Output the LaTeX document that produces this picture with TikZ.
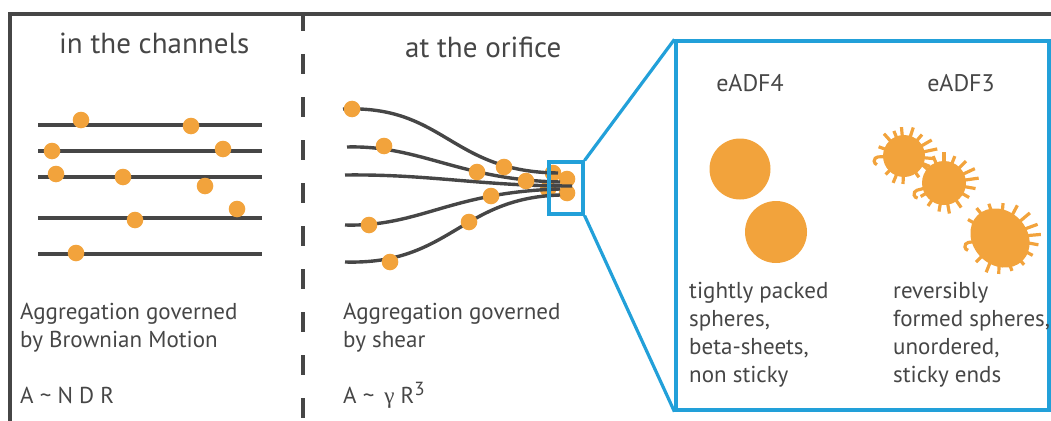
\documentclass[tikz,border=0pt]{standalone}
\usepackage{fontspec}
\setmainfont{PT Sans}
\newfontfamily\greekfont{Liberation Serif}
\definecolor{ink}{HTML}{464646}
\definecolor{bead}{HTML}{F2A33C}
\definecolor{zoomblue}{HTML}{22A0D9}

% a sphere with sticky ends: centre x, centre y, radius, rays (angle/length)
\newcommand\stickyball[4]{%
  \fill[bead] (#1,#2) circle[radius=#3];
  \foreach \a/\l in {#4}
    \draw[bead, line width=3.2pt, shift={(#1,#2)}] (\a:#3-3) -- (\a:#3+\l);
}
% a curled sticky end: centre x, centre y, radius, angle, length
\newcommand\stickyhook[5]{%
  \draw[bead, line width=3.2pt, shift={(#1,#2)}]
    (#4:#3-3) -- (#4:#3+#5) arc[start angle=#4+90, delta angle=-160, radius=4];
}

\begin{document}
\begin{tikzpicture}[x=1pt, y=-1pt,
  frame/.style={draw=ink, line width=3.6pt},
  channel/.style={draw=ink, line width=3.4pt},
  flow/.style={draw=ink, line width=3.4pt},
  particle/.style={fill=bead},
  zoomline/.style={draw=zoomblue, line width=3.2pt},
  title/.style={text=ink, font=\fontsize{29}{34}\selectfont, anchor=base west, inner sep=0},
  body/.style={text=ink, font=\fontsize{23}{28}\selectfont, anchor=base west, inner sep=0},
  tag/.style={text=ink, font=\fontsize{24}{28}\selectfont, anchor=base, inner sep=0}]

\useasboundingbox (0,0) rectangle (1051,420);
\clip (0,0) rectangle (1051,420);

% outer frame and divider
\draw[frame] (10,14) rectangle (1080,450);
\draw[frame, dash pattern=on 20pt off 23pt, dash phase=3pt] (303,14) -- (303,420);

% ---------- in the channels ----------
\node[title] (t1) at (59,53) {in the channels};
\foreach \y in {125,151,177,218,254}
  \draw[channel] (38,\y) -- (262,\y);
\foreach \x/\y in {81/120, 191/126, 52/151, 223/149, 56/174, 123/177,
                   205/186, 237/209, 135/220, 76/253}
  \fill[particle] (\x,\y) circle[radius=8.3];
\node[body] (b1) at (20,319) {Aggregation governed};
\node[body] (b2) at (20,347) {by Brownian Motion};
\node[body] (b3) at (20,403) {A \textasciitilde{} N D R};

% ---------- at the orifice ----------
\node[title] (t2) at (405,57) {at the orifice};
\foreach \x/\y in {553/173, 567/179, 548/189, 567/193}
  \fill[particle] (\x,\y) circle[radius=8.3];
\draw[flow] (343,109) .. controls (445,105) and (450,172) .. (558,173);
\draw[flow] (347,147) .. controls (420,145) and (460,180) .. (560,182);
\draw[flow] (345,225) .. controls (420,227) and (450,192) .. (560,189);
\draw[flow] (345,262) .. controls (450,265) and (460,198) .. (560,195);
\draw[flow] (345,175) .. controls (430,174) and (480,186) .. (572,186);
\foreach \x/\y in {352/109, 384/146, 369/225, 390/262, 477/172, 504/167,
                   526/181, 491/196, 469/222}
  \fill[particle] (\x,\y) circle[radius=8.3];
\node[body] (c1) at (343,319) {Aggregation governed};
\node[body] (c2) at (343,347) {by shear};
\node[body] (c3) at (343,403) {A \textasciitilde{} \,{\greekfont γ} R\raisebox{8pt}{\fontsize{19}{19}\selectfont 3}};

% ---------- magnified view ----------
\node[zoomline, inner sep=0, minimum width=34pt, minimum height=52pt] (win) at (566,188) {};
\node[zoomline, inner sep=0, minimum width=373pt, minimum height=369pt] (detail) at (862.5,225.5) {};
\draw[zoomline] (win.north east) -- (detail.north west);
\draw[zoomline] (win.south east) -- (detail.south west);

\node[tag] (e4) at (750,91) {eADF4};
\node[tag] (e3) at (961,91) {eADF3};

\fill[particle] (740,169) circle[radius=30.5];
\fill[particle] (776,232) circle[radius=31];

\stickyball{904}{156}{21}{-160/6, -132/9, -112/6, -95/8, -72/9, -50/7, -30/11,
  -12/13, 5/9, 22/7, 55/5, 92/7, 112/8, 135/5}
\stickyhook{904}{156}{21}{178}{5}
\stickyball{944}{183}{22}{-140/6, -112/7, -90/9, -68/7, -45/9, -25/12, -8/13,
  10/10, 30/7, 55/8, 80/9, 100/7, 125/6, 150/5}
\stickyhook{944}{183}{22}{165}{6}
\fill[particle] (1000,238) ellipse[x radius=32, y radius=27, rotate=-45];
\foreach \a/\l in {-150/9, -128/10, -108/8, -85/7, -62/9, -40/11, -20/12,
  -5/13, 10/11, 28/9, 48/8, 70/7, 92/8, 112/9, 135/6}
  \draw[bead, line width=3.2pt, shift={(1000,238)}] (\a:25) -- (\a:28+\l);
\stickyhook{1000}{238}{26}{172}{6}

\node[body] (l1) at (689,298) {tightly packed};
\node[body] (l2) at (689,326) {spheres,};
\node[body] (l3) at (689,354) {beta-sheets,};
\node[body] (l4) at (689,382) {non sticky};
\node[body] (r1) at (893,298) {reversibly};
\node[body] (r2) at (893,326) {formed spheres,};
\node[body] (r3) at (893,354) {unordered,};
\node[body] (r4) at (893,382) {sticky ends};
\end{tikzpicture}
\end{document}
